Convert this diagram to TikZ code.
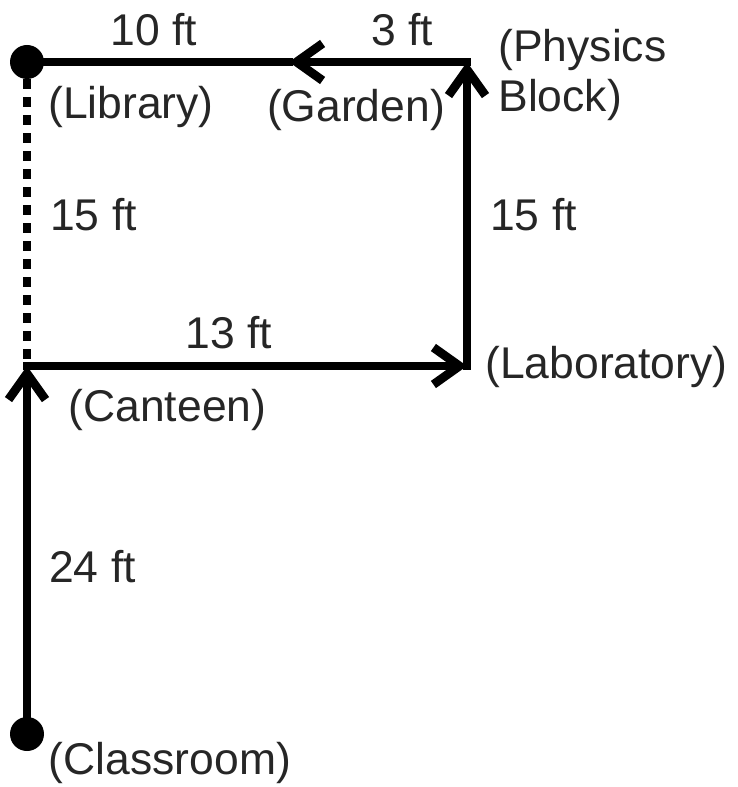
\documentclass[tikz,border=0pt]{standalone}
\usepackage{fontspec}
\setmainfont{Liberation Sans}
\usetikzlibrary{arrows.meta}
\tikzset{
  place/.style={circle, fill=black, inner sep=0pt, minimum size=0.68cm},
  spot/.style={inner sep=0pt, minimum size=0pt},
  leg/.style={line width=5pt, line cap=rect, -{Straight Barb[length=0.52cm, width=0.74cm, line width=5pt]}},
  plainleg/.style={line width=5pt, line cap=rect},
  lbl/.style={text=black!85, font=\fontsize{25.3}{28}\selectfont, inner sep=0pt}
}
\begin{document}
\begin{tikzpicture}
    \useasboundingbox (0,0) rectangle (14.76,-15.74);

    % The places
    \node[place] (library) at (0.54,-1.24) {};
    \node[place] (classroom) at (0.54,-14.68) {};
    \node[spot] (canteen) at (0.54,-7.32) {};
    \node[spot] (laboratory) at (9.34,-7.32) {};
    \node[spot] (physics) at (9.34,-1.24) {};
    \node[spot] (garden) at (5.78,-1.24) {};

    % The walk
    \draw[dash pattern=on 0.2cm off 0.16cm, line width=0.16cm] (library.south) -- (canteen.center);
    \draw[leg] (classroom.center) -- (canteen.center);
    \draw[leg] (canteen.center) -- (laboratory.center);
    \draw[leg] (laboratory.center) -- (physics.center);
    \draw[leg] (physics.center) -- (garden.center);
    \draw[plainleg] (garden.center) -- (library.center);

    % Labels
    \node[lbl] (lib label) at (2.62,-2.14) {(Library)};
    \node[lbl] (gar label) at (7.12,-2.2) {(Garden)};
    \node[lbl, anchor=west, align=left] (phy label) at (9.96,-1.5) {(Physics\\Block)};
    \node[lbl, anchor=west] (lab label) at (9.7,-7.34) {(Laboratory)};
    \node[lbl] (can label) at (3.35,-8.2) {(Canteen)};
    \node[lbl] (cls label) at (3.4,-15.26) {(Classroom)};

    \node[lbl] (d gl) at (3.08,-0.6) {10 ft};
    \node[lbl] (d pg) at (8.04,-0.6) {3 ft};
    \node[lbl] (d lc) at (1.87,-4.3) {15 ft};
    \node[lbl] (d lp) at (10.67,-4.3) {15 ft};
    \node[lbl] (d cl) at (4.58,-6.66) {13 ft};
    \node[lbl] (d cc) at (1.85,-11.34) {24 ft};
\end{tikzpicture}
\end{document}
